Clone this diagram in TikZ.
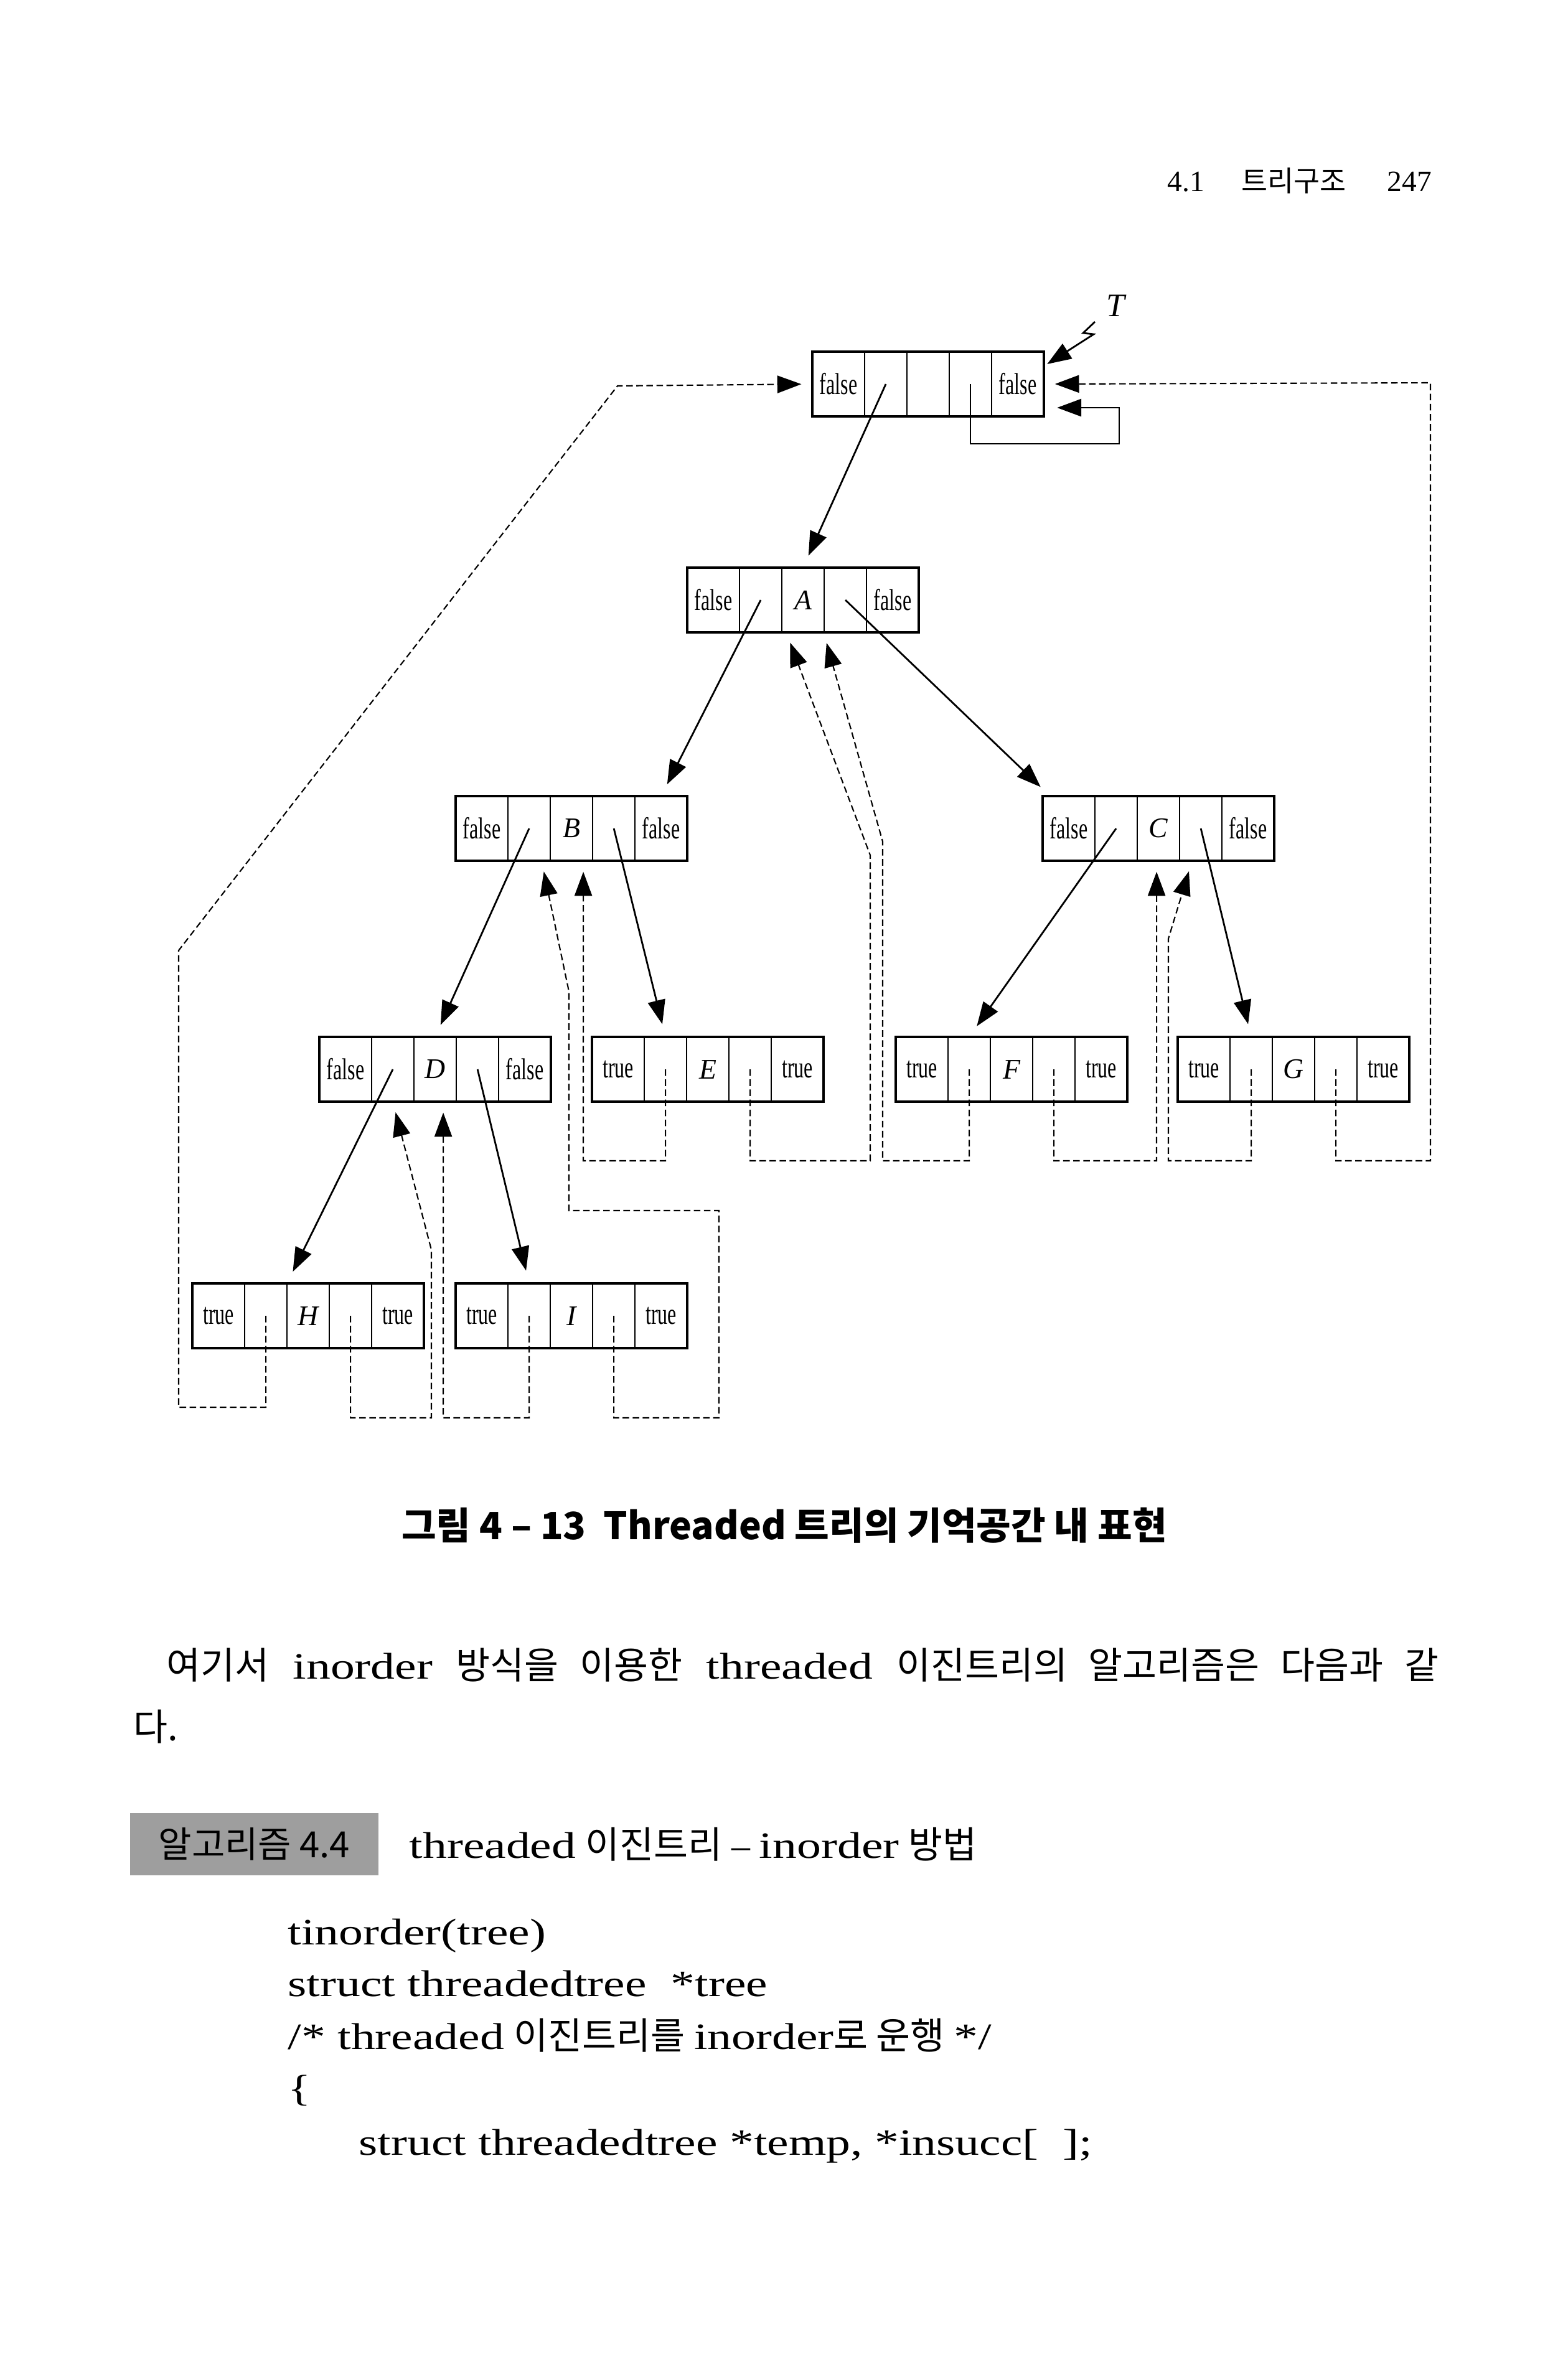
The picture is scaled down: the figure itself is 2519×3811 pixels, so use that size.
\documentclass[tikz,border=0pt]{standalone}
\usepackage{fontspec}
\setmainfont{Liberation Serif}
\newfontfamily\kr{Noto Sans CJK KR}
\newfontfamily\cellfont{Liberation Serif}[FakeStretch=0.66]
\newfontfamily\bodyfont{Liberation Serif}[FakeStretch=1.3]
\usetikzlibrary{positioning,fit,calc,arrows.meta}

\tikzset{
	cellbox/.style = {draw, line width=0.6pt, inner sep=0pt, outer sep=0pt, minimum height=1.04cm, font=\cellfont\fontsize{13.8}{14}\selectfont},
	tagcell/.style = {cellbox, minimum width=0.84cm},
	ptrcell/.style = {cellbox, minimum width=0.68cm},
	recframe/.style = {draw, line width=1.2pt, inner sep=0pt, outer sep=0pt},
	tree/.style = {-{Triangle[length=11pt,width=8pt]}, line width=0.8pt, shorten >=6pt},
	thread/.style = {-{Triangle[length=11pt,width=8pt]}, line width=0.6pt, dash pattern=on 3pt off 1.6pt, shorten >=5pt},
	txt/.style = {anchor=base west, inner sep=0pt},
	bodytext/.style = {font=\fontsize{17}{20}\selectfont},
	algbox/.style = {fill=black!38, inner sep=0pt, minimum width=3.99cm, minimum height=1.0cm, font=\kr\fontsize{16.5}{18}\selectfont}
}

\newcommand{\record}[5]{%
	\node[tagcell, anchor=north west] (#1-1) at (#2) {#3};
	\node[ptrcell, right=0pt of #1-1] (#1-2) {};
	\node[ptrcell, right=0pt of #1-2] (#1-3) {\normalfont\itshape\fontsize{13}{13}\selectfont #4};
	\node[ptrcell, right=0pt of #1-3] (#1-4) {};
	\node[tagcell, right=0pt of #1-4] (#1-5) {#5};
	\node[recframe, fit=(#1-1)(#1-5)] (#1) {};
}

\begin{document}
\begin{tikzpicture}[x=0.01cm, y=-0.01cm]
	\useasboundingbox (0,0) rectangle (2519,3811);
	\fill[white] (0,0) rectangle (2519,3811);
	
	\node[txt, font=\fontsize{13.5}{15}\selectfont] (secnum) at (1875,307) {4.1};
	\node[txt, font=\kr\fontsize{13}{15}\selectfont] (chapter) at (1994,307) {트리구조};
	\node[txt, font=\fontsize{13.5}{15}\selectfont] (pagenum) at (2228,307) {247};
	
	\record{head}{1305,565}{false}{}{false}
	\record{A}{1104,912}{false}{A}{false}
	\record{B}{732,1279}{false}{B}{false}
	\record{C}{1675,1279}{false}{C}{false}
	\record{D}{513,1666}{false}{D}{false}
	\record{E}{951,1666}{true}{E}{true}
	\record{F}{1439,1666}{true}{F}{true}
	\record{G}{1892,1666}{true}{G}{true}
	\record{H}{309,2062}{true}{H}{true}
	\record{I}{732,2062}{true}{I}{true}
	
	\node[font=\itshape\fontsize{15}{15}\selectfont] (T) at (1792,491) {T};
	\coordinate (T-tail) at (1759,517);
	\draw[-{Triangle[length=11pt,width=8pt]}, line width=0.8pt] (T-tail) -- (1740,535) -- (1757,537) -- ($(head.north east)+(5,20)$);
	
	\draw[tree] (head-2.center) -- (A-3.north);
	\draw[tree] (A-2.center) -- (B-5.north);
	\draw[tree] (A-4.center) -- ($(C-1.north west)+(12,0)$);
	\draw[tree] (B-2.center) -- (D-3.north);
	\draw[tree] (B-4.center) -- (E-2.north);
	\draw[tree] (C-2.center) -- (F-2.north);
	\draw[tree] (C-4.center) -- (G-2.north);
	\draw[tree] (D-2.center) -- (H-2.north east);
	\draw[tree] (D-4.center) -- (I-2.north);
	\draw[tree, line width=0.6pt] (head-4.center) |- (1798,713) |- ($(head.east)+(0,38)$);
	
	\draw[thread] (H-2.center) |- (287,2261) -- (287,1527) -- (992,620) -- (head.west);
	\draw[thread] (H-4.center) |- (693,2278) -- (693,2008) -- (D-2.south);
	\draw[thread] (I-2.center) |- (712,2278) -- ($(D-3.south)+(13,0)$);
	\draw[thread] (I-4.center) |- (1155,2278) |- (914,1945) -- (914,1593) -- ($(B-2.south)+(20,0)$);
	\draw[thread] (E-2.center) |- (937,1865) -- ($(B-3.south)+(19,0)$);
	\draw[thread] (E-4.center) |- (1398,1865) -- (1398,1374) -- ($(A-3.south)+(-27,0)$);
	\draw[thread] (F-2.center) |- (1418,1865) -- (1418,1352) -- ($(A-3.south)+(33,0)$);
	\draw[thread] (F-4.center) |- (1858,1865) -- ($(C-3.south)+(-3,0)$);
	\draw[thread] (G-2.center) |- (1877,1865) -- (1877,1508) -- ($(C-4.south west)+(20,0)$);
	\draw[thread] (G-4.center) |- (2298,1865) -- (2298,615) -- (head.east);
	
	\node[font=\kr\bfseries\fontsize{17.2}{19}\selectfont] (caption) at (1260,2451) {그림 4 – 13 \ Threaded 트리의 기억공간 내 표현};
	
	\node[txt, bodytext] (para1) at (267,2697) {\makebox[20.43cm][s]{{\kr 여기서} {\bodyfont inorder} {\kr 방식을 이용한} {\bodyfont threaded} {\kr 이진트리의 알고리즘은 다음과 같}}};
	\node[txt, bodytext] (para2) at (214,2796) {\kr 다.};
	
	\node[algbox, anchor=north west] (alg) at (208,2912) {알고리즘 4.4};
	\node[txt, bodytext] (algtitle) at (657,2985) {{\bodyfont threaded} {\kr 이진트리} – {\bodyfont inorder} {\kr 방법}};
	
	\node[txt, bodytext] (code1) at (462,3124) {\bodyfont tinorder(tree)};
	\node[txt, bodytext] (code2) at (462,3207) {\bodyfont struct threadedtree \ *tree};
	\node[txt, bodytext] (code3) at (462,3292) {{\bodyfont /* threaded} {\kr 이진트리를} {\bodyfont inorder}{\kr 로 운행} {\bodyfont */}};
	\node[txt, bodytext] (code4) at (462,3375) {\bodyfont \{};
	\node[txt, bodytext] (code5) at (576,3462) {\bodyfont struct threadedtree *temp, *insucc[\ \ ];};
\end{tikzpicture}
\end{document}
